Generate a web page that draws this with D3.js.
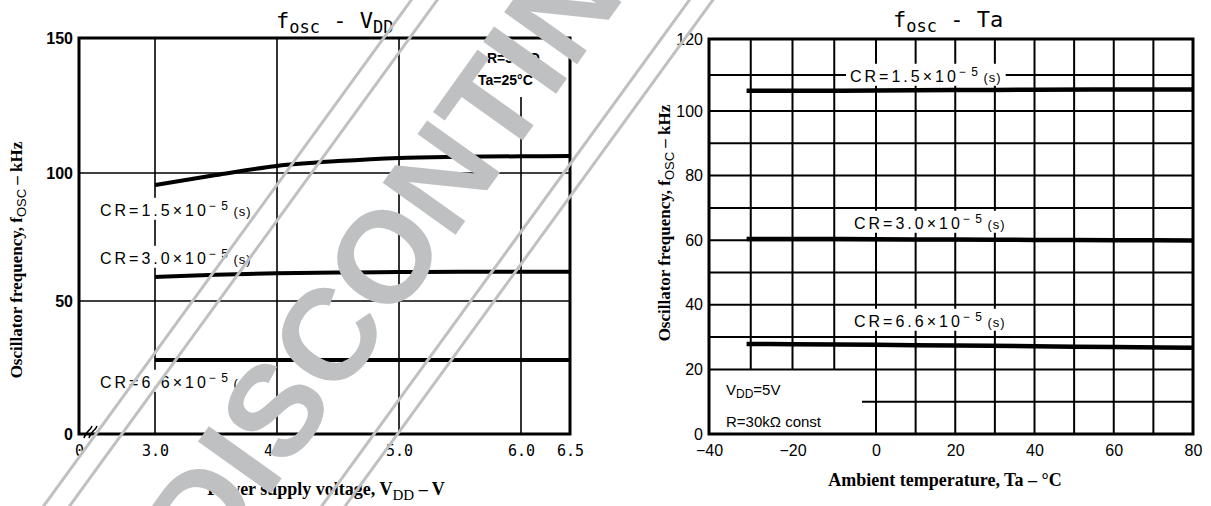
<!DOCTYPE html>
<html>
<head>
<meta charset="utf-8">
<script src="https://d3js.org/d3.v7.min.js"></script>
<style>
body { margin: 0; background: #fff; }
</style>
</head>
<body>
<svg id="chart" width="1211" height="506"></svg>
<script>
// fosc - VDD  (left)
const vddVolts = [3.0, 3.5, 4.0, 4.5, 5.0, 5.5, 6.0, 6.5];
const vddCR15 = [95.3, 99.2, 102.6, 104.4, 105.6, 106.0, 106.2, 106.3];
const vddCR30 = [59.4, 60.3, 60.8, 61.1, 61.3, 61.4, 61.4, 61.4];
const vddCR66 = [27.8, 27.8, 27.8, 27.8, 27.8, 27.8, 27.8, 27.8];
const vddTicks = [0, 3.0, 4.0, 5.0, 6.0, 6.5];
const vddTickLabels = ["0", "3.0", "4.0", "5.0", "6.0", "6.5"];
const vddFreqTicks = [0, 50, 100, 150];

// fosc - Ta  (right)
const taDeg = [-31, -20, 0, 20, 40, 60, 80];
const taCR15 = [105.6, 105.6, 105.7, 105.8, 105.9, 106.0, 106.0];
const taCR30 = [60.4, 60.4, 60.3, 60.2, 60.1, 60.0, 59.9];
const taCR66 = [27.9, 27.8, 27.6, 27.4, 27.2, 26.9, 26.7];
const taTicks = [-40, -20, 0, 20, 40, 60, 80];
const taFreqTicks = [0, 20, 40, 60, 80, 100, 120];

const svg = d3.select("#chart");
const ink = "#000";
const grey = "#bfc0c2";
const sans = "'Liberation Sans', Arial, sans-serif";
const serif = "'Liberation Serif', 'Times New Roman', serif";
const mono = "'DejaVu Sans Mono', monospace";

function crLabel(g, x, y, mant, bg) {
    let t = g.append("text").attr("x", x).attr("y", y).attr("dy", "0.36em")
        .attr("font-family", sans).attr("font-size", 16).attr("letter-spacing", 3);
    t.append("tspan").text("CR=" + mant + "\u00d710");
    t.append("tspan").attr("dy", -6).attr("font-size", 12).attr("letter-spacing", 1).text("\u2212 5");
    t.append("tspan").attr("dy", 6).attr("font-size", 13).attr("letter-spacing", 1).text(" (s)");
    if (bg) {
        let b = t.node().getBBox();
        g.insert("rect", "text").attr("x", b.x - 4).attr("y", b.y - 1)
            .attr("width", b.width + 8).attr("height", b.height + 2).attr("fill", "#fff");
    }
}

function fTitle(g, x, y, rest) {
    let t = g.append("text").attr("x", x).attr("y", y)
        .attr("font-family", mono).attr("font-size", 22);
    t.append("tspan").text("f");
    t.append("tspan").attr("dy", 5).attr("font-size", 17).text("osc");
    t.append("tspan").attr("dy", -5).text(" - ");
    rest(t);
}

function yTitle(g, x, y) {
    let t = g.append("text").attr("transform", `translate(${x},${y}) rotate(-90)`)
        .attr("text-anchor", "middle").attr("font-family", serif)
        .attr("font-size", 17).attr("font-weight", "bold");
    t.append("tspan").text("Oscillator frequency, f");
    t.append("tspan").attr("dy", 4).attr("font-size", 13).attr("font-family", sans).attr("font-weight", "normal").text("OSC");
    t.append("tspan").attr("dy", -4).text(" \u2013 kHz");
}

// ---------- left chart ----------
const xV = d3.scaleLinear().domain([0, 3, 4, 5, 6, 6.5]).range([79, 155, 277, 399, 521, 570]);
const yV = d3.scaleLinear().domain([0, 50, 100, 150]).range([434, 301, 173, 38]);
const gL = svg.append("g");

gL.selectAll(".hg").data([50, 100]).join("line")
    .attr("x1", xV(0)).attr("x2", xV(6.5)).attr("y1", d => yV(d)).attr("y2", d => yV(d))
    .attr("stroke", ink).attr("stroke-width", 1.6);
gL.selectAll(".vg").data([3, 4, 5, 6]).join("line")
    .attr("x1", d => xV(d)).attr("x2", d => xV(d))
    .attr("y1", d => d === 6 ? 97 : yV(150)).attr("y2", yV(0))
    .attr("stroke", ink).attr("stroke-width", 1.6);

const lineV = d3.line().x((d, i) => xV(vddVolts[i])).y(d => yV(d)).curve(d3.curveMonotoneX);
[vddCR15, vddCR30, vddCR66].forEach(s => {
    gL.append("path").attr("d", lineV(s)).attr("fill", "none")
        .attr("stroke", ink).attr("stroke-width", 4);
});

const gLab = gL.append("g");
crLabel(gLab.append("g"), 100, 210, "1.5", true);
crLabel(gLab.append("g"), 100, 258, "3.0", true);
crLabel(gLab.append("g"), 100, 382, "6.6", true);

gL.append("rect").attr("x", xV(0)).attr("y", yV(150))
    .attr("width", xV(6.5) - xV(0)).attr("height", yV(0) - yV(150))
    .attr("fill", "none").attr("stroke", ink).attr("stroke-width", 3);

// axis break mark
gL.append("path").attr("d", "M84,438 C86,430 90,432 92,426 M89,438 C91,430 95,432 97,426")
    .attr("fill", "none").attr("stroke", ink).attr("stroke-width", 1.5);

gL.append("g").attr("transform", `translate(0,${yV(0)})`)
    .call(d3.axisBottom(xV).tickValues(vddTicks).tickFormat((d, i) => vddTickLabels[i]).tickSize(0).tickPadding(11))
    .call(g => g.select(".domain").remove())
    .selectAll("text").attr("font-family", mono).attr("font-size", 15).attr("fill", ink);
gL.append("g").attr("transform", `translate(${xV(0)},0)`)
    .call(d3.axisLeft(yV).tickValues(vddFreqTicks).tickSize(0).tickPadding(6))
    .call(g => g.select(".domain").remove())
    .selectAll("text").attr("font-family", sans).attr("font-size", 16).attr("font-weight", "bold").attr("fill", ink);

fTitle(gL, 276, 28, t => {
    t.append("tspan").text("V");
    t.append("tspan").attr("dy", 5).attr("font-size", 17).text("DD");
});

let lg = gL.append("text").attr("font-family", sans).attr("font-size", 14).attr("font-weight", "bold");
lg.append("tspan").attr("x", 487).attr("y", 63).text("R=30k\u03a9");
lg.append("tspan").attr("x", 478).attr("y", 85).text("Ta=25\u00b0C");

let xtL = gL.append("text").attr("x", 326).attr("y", 495).attr("text-anchor", "middle")
    .attr("font-family", serif).attr("font-size", 18).attr("font-weight", "bold");
xtL.append("tspan").text("Power supply voltage, V");
xtL.append("tspan").attr("dy", 5).attr("font-size", 15).attr("font-weight", "normal").text("DD");
xtL.append("tspan").attr("dy", -5).text(" \u2013 V");

yTitle(gL, 22, 260);

// ---------- right chart ----------
const xT = d3.scaleLinear().domain([-40, 0, 80]).range([709, 876, 1193]);
const yT = d3.scaleLinear().domain([0, 100, 120]).range([434, 111, 39]);
const gR = svg.append("g");

gR.selectAll(".vg").data(d3.range(-30, 80, 10)).join("line")
    .attr("x1", d => xT(d)).attr("x2", d => xT(d))
    .attr("y1", yT(120)).attr("y2", d => d < 0 ? yT(20) : yT(0))
    .attr("stroke", ink).attr("stroke-width", 2);
gR.selectAll(".hg").data(d3.range(10, 120, 10)).join("line")
    .attr("x1", d => d === 10 ? 862 : xT(-40)).attr("x2", xT(80))
    .attr("y1", d => yT(d)).attr("y2", d => yT(d))
    .attr("stroke", ink).attr("stroke-width", 2);

const lineT = d3.line().x((d, i) => xT(taDeg[i])).y(d => yT(d)).curve(d3.curveMonotoneX);

const gRLab = gR.append("g");
crLabel(gRLab.append("g"), 850, 76, "1.5", true);
crLabel(gRLab.append("g"), 854, 223, "3.0", true);
crLabel(gRLab.append("g"), 854, 321, "6.6", true);

[taCR15, taCR30, taCR66].forEach(s => {
    gR.append("path").attr("d", lineT(s)).attr("fill", "none")
        .attr("stroke", ink).attr("stroke-width", 4.5);
});

gR.append("rect").attr("x", xT(-40)).attr("y", yT(120))
    .attr("width", xT(80) - xT(-40)).attr("height", yT(0) - yT(120))
    .attr("fill", "none").attr("stroke", ink).attr("stroke-width", 3);

let cond = gR.append("text").attr("font-family", sans).attr("font-size", 15);
cond.append("tspan").attr("x", 726).attr("y", 395).text("V");
cond.append("tspan").attr("dy", 3).attr("font-size", 12).text("DD");
cond.append("tspan").attr("dy", -3).text("=5V");
gR.append("text").attr("x", 726).attr("y", 427).attr("font-family", sans).attr("font-size", 15)
    .text("R=30k\u03a9  const");

gR.append("g").attr("transform", `translate(0,${yT(0)})`)
    .call(d3.axisBottom(xT).tickValues(taTicks).tickFormat(d => d < 0 ? "\u2212" + (-d) : d).tickSize(0).tickPadding(11))
    .call(g => g.select(".domain").remove())
    .selectAll("text").attr("font-family", sans).attr("font-size", 16).attr("fill", ink);
gR.append("g").attr("transform", `translate(${xT(-40) - 2},0)`)
    .call(d3.axisLeft(yT).tickValues(taFreqTicks).tickSize(0).tickPadding(4))
    .call(g => g.select(".domain").remove())
    .selectAll("text").attr("font-family", sans).attr("font-size", 16).attr("fill", ink);

fTitle(gR, 893, 27, t => t.append("tspan").text("Ta"));

gR.append("text").attr("x", 945).attr("y", 486).attr("text-anchor", "middle")
    .attr("font-family", serif).attr("font-size", 18).attr("font-weight", "bold")
    .text("Ambient temperature, Ta \u2013 \u00b0C");

yTitle(gR, 670, 223);

// ---------- watermark ----------
const wmLines = svg.append("g").attr("transform", "translate(448,140) rotate(-54)");
[-112, -91, 113, 132].forEach(off => {
    wmLines.append("line").attr("x1", -900).attr("x2", 900).attr("y1", off).attr("y2", off)
        .attr("stroke", grey).attr("stroke-width", 3);
});
svg.append("g").attr("transform", "translate(462,148) rotate(-54.5)")
    .append("text").attr("text-anchor", "middle").attr("dominant-baseline", "central")
    .attr("font-family", sans).attr("font-weight", "bold").attr("font-size", 130)
    .attr("fill", grey).text("DISCONTINUED");
</script>
</body>
</html>
